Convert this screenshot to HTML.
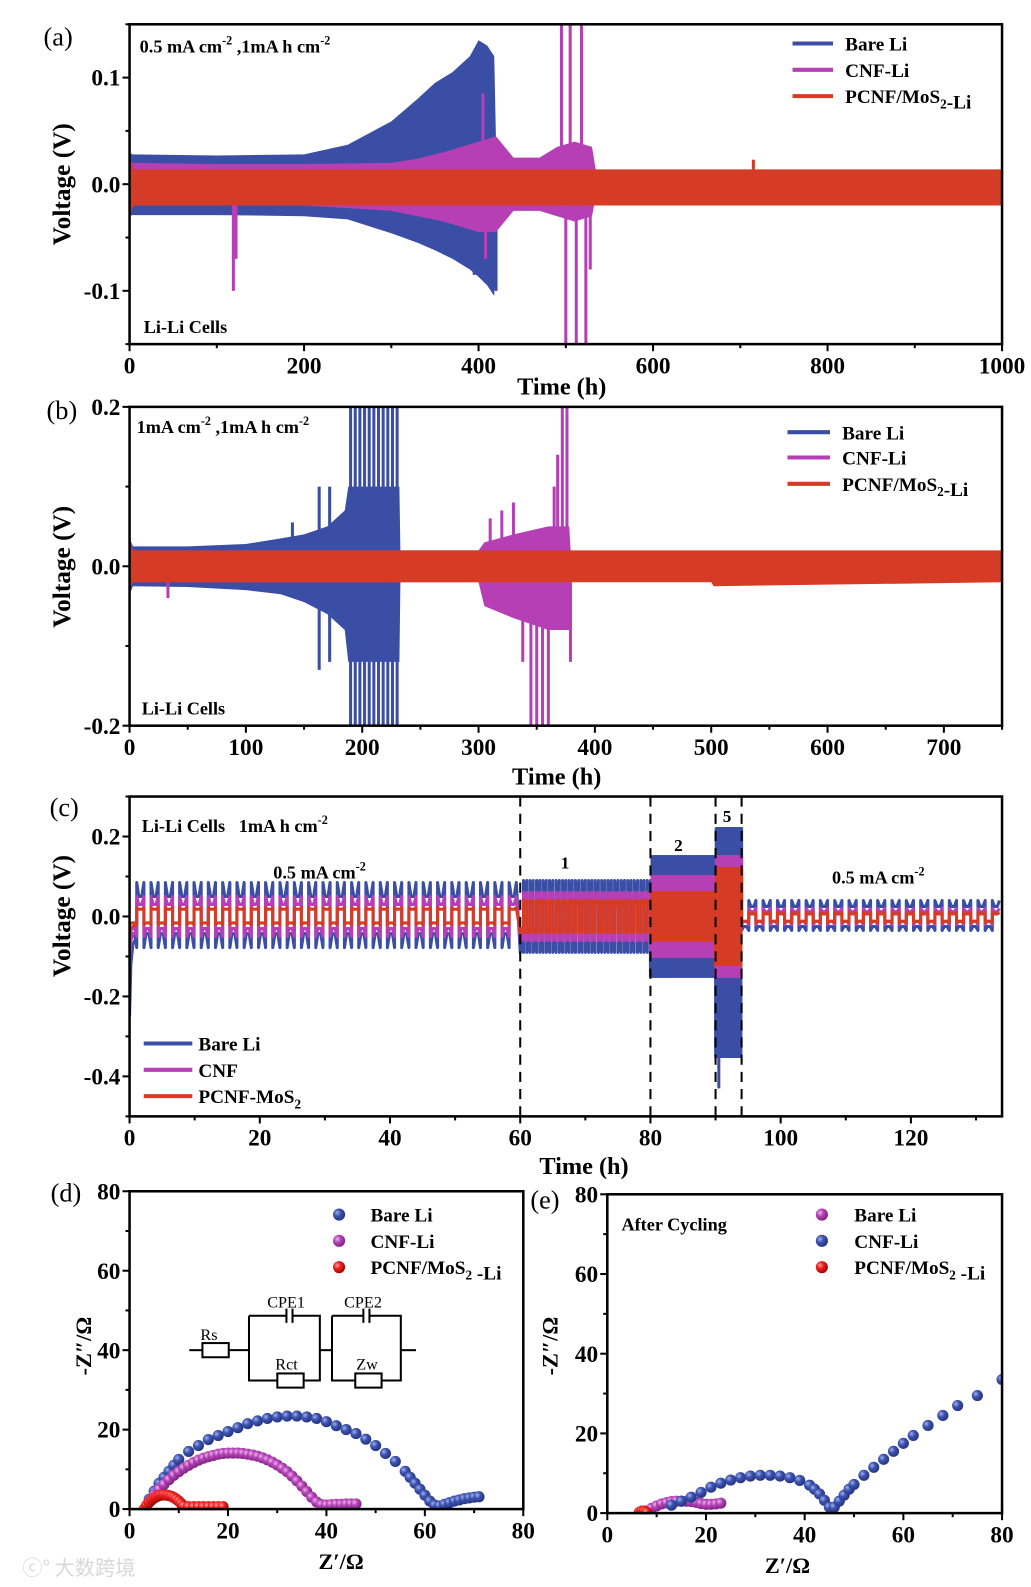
<!DOCTYPE html>
<html><head><meta charset="utf-8"><style>
html,body{margin:0;padding:0;background:#fff;}
svg{display:block;font-family:"Liberation Serif","Noto Serif CJK SC",serif;}
</style></head><body>
<svg id="fig" xmlns="http://www.w3.org/2000/svg" width="1031" height="1587" viewBox="0 0 1018.6 1568" preserveAspectRatio="none">
<defs>
<radialGradient id="gB" cx="35%" cy="35%" r="65%"><stop offset="0" stop-color="#9fb0ee"/><stop offset="0.45" stop-color="#3d52b0"/><stop offset="1" stop-color="#263680"/></radialGradient>
<radialGradient id="gM" cx="35%" cy="35%" r="65%"><stop offset="0" stop-color="#f0b0f0"/><stop offset="0.45" stop-color="#b443b6"/><stop offset="1" stop-color="#7d2580"/></radialGradient>
<radialGradient id="gR" cx="35%" cy="35%" r="65%"><stop offset="0" stop-color="#ff9a9a"/><stop offset="0.45" stop-color="#ee1c1c"/><stop offset="1" stop-color="#a00808"/></radialGradient>
<clipPath id="clipA"><rect x="128" y="24" width="862" height="316"/></clipPath>
<clipPath id="clipB"><rect x="128" y="402" width="862" height="315"/></clipPath>
<clipPath id="clipC"><rect x="128" y="787" width="862" height="316"/></clipPath>
<clipPath id="clipD"><rect x="128" y="1177" width="389" height="315"/></clipPath>
<clipPath id="clipE"><rect x="600" y="1180" width="390" height="316"/></clipPath>
</defs>
<text x="22" y="1556" font-size="20" fill="#d8d8d8" font-family="'Noto Sans CJK SC',sans-serif">ⓒ° 大数跨境</text>
</svg>
<script>
// ---------- DATA: panel (a) ----------
const aBlueT=[0,3,100,200,250,300,330,350,370,390,400,410,418,421];
const aBlueHi=[0.03,0.028,0.027,0.028,0.037,0.059,0.08,0.095,0.105,0.12,0.135,0.13,0.12,0];
const aBlueLo=[-0.03,-0.029,-0.029,-0.03,-0.033,-0.046,-0.055,-0.062,-0.07,-0.08,-0.087,-0.095,-0.105,0];
const aMagT=[0,2,100,200,300,330,360,380,400,420,440,470,490,510,530,537];
const aMagHi=[0.03,0.02,0.019,0.019,0.02,0.024,0.03,0.035,0.04,0.045,0.025,0.025,0.035,0.04,0.035,0];
const aMagLo=[-0.03,-0.02,-0.02,-0.02,-0.025,-0.03,-0.035,-0.04,-0.045,-0.045,-0.025,-0.025,-0.03,-0.035,-0.03,0];
const aRedT=[0,2,5,1000];
const aRedHi=[0.03,0.02,0.014,0.014];
const aRedLo=[-0.03,-0.025,-0.02,-0.02];
const aBlueSpT=[395,410,420];
const aBlueSpV=[-0.085,0.1,-0.1];
const aMagSpT=[119,122,405,408,495,500,505,512,518,523,528];
const aMagSpV=[-0.1,-0.07,0.085,-0.07,0.16,-0.16,0.16,-0.16,0.16,-0.16,-0.08];
const aRedSpT=[715];
const aRedSpV=[0.023];
// ---------- DATA: panel (b) ----------
const bBlueT=[0,3,50,100,130,150,170,185,188,232,233];
const bBlueHi=[0.035,0.025,0.025,0.028,0.035,0.04,0.05,0.07,0.1,0.1,0];
const bBlueLo=[-0.035,-0.025,-0.026,-0.03,-0.035,-0.045,-0.06,-0.08,-0.12,-0.12,0];
const bBlueSpT=[140,163,172,190,194,198,202,206,210,214,218,222,226,230,163,172,190,194,198,202,206,210,214,218,222,226,230];
const bBlueSpV=[0.055,0.1,0.1,0.2,0.2,0.2,0.2,0.2,0.2,0.2,0.2,0.2,0.2,0.2,-0.13,-0.12,-0.2,-0.2,-0.2,-0.2,-0.2,-0.2,-0.2,-0.2,-0.2,-0.2,-0.2];
const bMagT=[0,2,10,300,305,330,360,378,380];
const bMagHi=[0.045,0.02,0.02,0.02,0.03,0.04,0.05,0.05,0];
const bMagLo=[-0.035,-0.02,-0.02,-0.02,-0.05,-0.065,-0.08,-0.08,0];
const bMagSpT=[33,310,320,330,338,345,350,355,360,365,368,372,376,379];
const bMagSpV=[-0.04,0.06,0.07,0.08,-0.12,-0.2,-0.2,-0.2,-0.2,0.1,0.14,0.2,0.2,-0.12];
const bRedT=[0,3,500,502,750];
const bRedHi=[0.03,0.02,0.02,0.02,0.02];
const bRedLo=[-0.03,-0.02,-0.02,-0.025,-0.02];
// ---------- DATA: panel (c) ----------
const cSegStart=[0,60,80,90,94];
const cSegEnd=[60,80,90,94,134];
const cHalf=[1.1,0.5,0.25,0.1,1.1];
const cBluePosPlat=[0.05,0.06,0.11,0.18,0.025];
const cBluePosSpike=[0.085,0.09,0.15,0.22,0.04];
const cBlueNegPlat=[-0.043,-0.06,-0.11,-0.2,-0.025];
const cBlueNegSpike=[-0.078,-0.09,-0.15,-0.35,-0.035];
const cMagPosPlat=[0.03,0.04,0.07,0.12,0.012];
const cMagPosSpike=[0.05,0.06,0.1,0.15,0.02];
const cMagNegPlat=[-0.03,-0.04,-0.07,-0.12,-0.012];
const cMagNegSpike=[-0.05,-0.06,-0.1,-0.15,-0.02];
const cRedPosPlat=[0.018,0.03,0.05,0.1,0.006];
const cRedPosSpike=[0.022,0.04,0.06,0.12,0.01];
const cRedNegPlat=[-0.016,-0.03,-0.05,-0.1,-0.012];
const cRedNegSpike=[-0.02,-0.04,-0.06,-0.12,-0.015];
const cInitT=[0,0.2,0.5,1];
const cInitBlue=[-0.25,-0.12,-0.07,-0.055];
const cInitMag=[-0.1,-0.06,-0.045,-0.04];
const cInitRed=[-0.05,-0.03,-0.025,-0.02];
const cBlueSpT=[90.5,91.2,93.6];
const cBlueSpV=[-0.43,-0.3,-0.28];
const cDashT=[60,80,90,94];
// ---------- DATA: panel (d) ----------
const dBlueX=[3,4,5,6,7,8,9,10,12,14,16,18,20,22,24,26,28,30,32,34,36,38,40,42,44,46,48,50,52,54,56,57,58,59,60,61,62,63,64,65,66,67,68,69,70,71];
const dBlueY=[0,2.5,4.5,6.5,8,9.5,11,12.5,14.5,16,17.5,18.5,19.5,20.5,21.5,22.2,22.8,23.2,23.4,23.4,23.2,22.8,22,21,20,19,17.6,16,14,12,9.5,8,6.5,5,3.5,2,1,0.8,1.2,1.6,2,2.3,2.6,2.8,3,3.1];
const dMagX=[3,4,5,6,7,8,9,10,11,12,13,14,15,16,17,18,19,20,21,22,23,24,25,26,27,28,29,30,31,32,33,34,35,36,37,38,39,40,41,42,43,44,45,46];
const dMagY=[0,2,3.5,5,6.2,7.4,8.5,9.4,10.3,11,11.7,12.3,12.8,13.2,13.5,13.8,14,14.1,14.1,14.1,14,13.8,13.6,13.3,12.9,12.4,11.8,11.1,10.3,9.4,8.3,7.1,5.8,4.4,3,1.8,1.1,1,1.1,1.2,1.2,1.3,1.3,1.3];
const dRedX=[3,3.5,4,4.5,5,5.5,6,6.5,7,7.5,8,8.5,9,9.5,10,10.5,11,12,13,14,15,16,17,18,19];
const dRedY=[0,1,1.7,2.3,2.8,3.1,3.4,3.5,3.6,3.5,3.4,3.2,2.9,2.5,2,1.4,0.8,0.6,0.6,0.6,0.6,0.6,0.6,0.6,0.6];
// ---------- DATA: panel (e) ----------
const eBlueX=[13,15,17,19,21,23,25,27,29,31,33,35,37,39,41,42,43,44,45,46,47,48,49,50,52,54,56,58,60,62,65,68,71,75,80];
const eBlueY=[2,3,4,5.2,6.5,7.5,8.3,8.9,9.3,9.5,9.5,9.3,8.9,8.2,7,6,4.8,3.2,1.5,1.5,3,4.5,6,7.2,9.5,11.5,13.5,15.5,17.5,19.5,22,24.5,27,29.5,33.5];
const eMagX=[8,9,10,11,12,13,14,15,16,17,18,19,20,21,22,23];
const eMagY=[0.5,1.2,1.8,2.3,2.6,2.9,3,3,3,2.9,2.7,2.4,2.2,2.2,2.3,2.5];
const eRedX=[6.5,7,7.5,8];
const eRedY=[0.2,0.5,0.5,0.2];

const NS='http://www.w3.org/2000/svg';
const svg=document.getElementById('fig');
const COL={blue:'#3b4ea6',mag:'#b63fb5',red:'#d63c25'};
function L(d0,d1,r0,r1){return v=>r0+(v-d0)*(r1-r0)/(d1-d0);}
function mk(tag,attrs,parent){const e=document.createElementNS(NS,tag);for(const k in attrs)e.setAttribute(k,attrs[k]);(parent||svg).appendChild(e);return e;}
function txt(x,y,s,size,opts,parent){const e=mk('text',Object.assign({x:x,y:y,'font-size':size,'font-weight':'bold'},opts||{}),parent);e.innerHTML=s;return e;}

function band(g,T,hi,lo,X,Y,color,name){
  const up=T.map((t,i)=>X(t).toFixed(1)+','+Y(hi[i]).toFixed(1));
  const dn=T.map((t,i)=>X(t).toFixed(1)+','+Y(lo[i]).toFixed(1)).reverse();
  const p=mk('polygon',{points:up.concat(dn).join(' '),fill:color},g);
  
  
}
function spikes(g,T,V,X,Y,color,name){
  T.forEach((t,i)=>{
    const l=mk('line',{x1:X(t),x2:X(t),y1:Y(0),y2:Y(V[i]),stroke:color,'stroke-width':3},g);
    
    
  });
}
function axes(o){
  const g=mk('g',{});
  
  
  mk('rect',{x:o.x0,y:o.y0,width:o.x1-o.x0,height:o.y1-o.y0,fill:'none',stroke:'#000','stroke-width':2.5},g);
  for(let v=o.xmin;v<=o.xmax+1e-9;v+=o.xminor){
    const maj=Math.abs(v/o.xmajor-Math.round(v/o.xmajor))<1e-6;
    mk('line',{x1:o.X(v),x2:o.X(v),y1:o.y1,y2:o.y1+(maj?7:4),stroke:'#000','stroke-width':2},g);
    if(maj){const t=txt(o.X(v),o.y1+29,String(Math.round(v)),23,{'text-anchor':'middle'},g);
      }
  }
  for(let v=o.ymin;v<=o.ymax+1e-9;v+=o.yminor){
    const maj=Math.abs(v/o.ymajor-Math.round(v/o.ymajor))<1e-6;
    mk('line',{x1:o.x0,x2:o.x0-(maj?7:4),y1:o.Y(v),y2:o.Y(v),stroke:'#000','stroke-width':2},g);
    if(maj){const lbl=o.yfmt(v);const t=txt(o.x0-9,o.Y(v)+8,lbl,23,{'text-anchor':'end'},g);
      }
  }
  return g;
}
const f1=v=>{const r=Math.round(v*10)/10;return (r===0?'0.0':r.toFixed(1));};
const f0=v=>String(Math.round(v));

// ================= PANEL A =================
const aX=L(0,1000,128,990), aY=L(-0.15,0.15,340,24);
const gA=mk('g',{'clip-path':'url(#clipA)'});


band(gA,aBlueT,aBlueHi,aBlueLo,aX,aY,COL.blue,'series-bare-li');
spikes(gA,aBlueSpT,aBlueSpV,aX,aY,COL.blue,'bare-li-spike');
band(gA,aMagT,aMagHi,aMagLo,aX,aY,COL.mag,'series-cnf-li');
spikes(gA,aMagSpT,aMagSpV,aX,aY,COL.mag,'cnf-li-spike');
band(gA,aRedT,aRedHi,aRedLo,aX,aY,COL.red,'series-pcnf-mos2-li');
spikes(gA,aRedSpT,aRedSpV,aX,aY,COL.red,'pcnf-spike');
axes({name:'panel-a',x0:128,x1:990,y0:24,y1:340,X:aX,Y:aY,xmin:0,xmax:1000,xmajor:200,xminor:100,ymin:-0.15,ymax:0.15,ymajor:0.1,yminor:0.05,yfmt:f1});

// ================= PANEL B =================
const bX=L(0,750,128,990), bY=L(-0.2,0.2,717,402);
const gB=mk('g',{'clip-path':'url(#clipB)'});


band(gB,bBlueT,bBlueHi,bBlueLo,bX,bY,COL.blue,'series-bare-li');
spikes(gB,bBlueSpT,bBlueSpV,bX,bY,COL.blue,'bare-li-spike');
band(gB,bMagT,bMagHi,bMagLo,bX,bY,COL.mag,'series-cnf-li');
spikes(gB,bMagSpT,bMagSpV,bX,bY,COL.mag,'cnf-li-spike');
band(gB,bRedT,bRedHi,bRedLo,bX,bY,COL.red,'series-pcnf-mos2-li');
axes({name:'panel-b',x0:128,x1:990,y0:402,y1:717,X:bX,Y:bY,xmin:0,xmax:750,xmajor:100,xminor:50,ymin:-0.2,ymax:0.2,ymajor:0.2,yminor:0.1,yfmt:f1});

// ================= PANEL C =================
const cX=L(0,134,128,990), cY=L(-0.5,0.3,1103,787);
const gC=mk('g',{'clip-path':'url(#clipC)'});


function wave(pp,ps,np,ns){
  const pts=[];const F=[0,0.15,0.3,0.7,0.85,1];
  for(let s=0;s<cSegStart.length;s++){
    const h=cHalf[s];const n=Math.floor((cSegEnd[s]-cSegStart[s])/h+1e-6);
    for(let k=0;k<n;k++){
      const t0=cSegStart[s]+k*h;const pos=(k%2===1);
      const p=pos?pp[s]:np[s], sp=pos?ps[s]:ns[s];
      const vals=[sp,(sp+p)/2,p,p,(sp+p)/2,sp];
      F.forEach((f,i)=>pts.push(cX(t0+f*h).toFixed(1)+','+cY(vals[i]).toFixed(1)));
    }
  }
  return pts.join(' ');
}
function cLine(pp,ps,np,ns,init,color,name){
  const l=mk('polyline',{points:wave(pp,ps,np,ns),fill:'none',stroke:color,'stroke-width':3,'stroke-linejoin':'round'},gC);
  
  
  const i=mk('polyline',{points:cInitT.map((t,j)=>cX(t)+','+cY(init[j])).join(' '),fill:'none',stroke:color,'stroke-width':3},gC);
  
  
}
cLine(cBluePosPlat,cBluePosSpike,cBlueNegPlat,cBlueNegSpike,cInitBlue,COL.blue,'series-bare-li');
spikes(gC,cBlueSpT,cBlueSpV,cX,cY,COL.blue,'bare-li-spike');
cLine(cMagPosPlat,cMagPosSpike,cMagNegPlat,cMagNegSpike,cInitMag,COL.mag,'series-cnf');
cLine(cRedPosPlat,cRedPosSpike,cRedNegPlat,cRedNegSpike,cInitRed,COL.red,'series-pcnf-mos2');
cDashT.forEach(t=>{
  const d=mk('line',{x1:cX(t),x2:cX(t),y1:787,y2:1103,stroke:'#000','stroke-width':2,'stroke-dasharray':'10,7'});
  
  
});
axes({name:'panel-c',x0:128,x1:990,y0:787,y1:1103,X:cX,Y:cY,xmin:0,xmax:134,xmajor:20,xminor:10,ymin:-0.5,ymax:0.3,ymajor:0.2,yminor:0.1,yfmt:f1});

// ================= PANEL D =================
const dX=L(0,80,128,517), dY=L(0,80,1491,1177);
const gD=mk('g',{'clip-path':'url(#clipD)'});


function dots(g,xs,ys,X,Y,grad,name){
  xs.forEach((x,i)=>{
    const c=mk('circle',{cx:X(x),cy:Y(ys[i]),r:5.5,fill:'url(#'+grad+')'},g);
    
    
  });
}
dots(gD,dBlueX,dBlueY,dX,dY,'gB','bare-li-point');
dots(gD,dMagX,dMagY,dX,dY,'gM','cnf-li-point');
dots(gD,dRedX,dRedY,dX,dY,'gR','pcnf-mos2-li-point');
axes({name:'panel-d',x0:128,x1:517,y0:1177,y1:1491,X:dX,Y:dY,xmin:0,xmax:80,xmajor:20,xminor:10,ymin:0,ymax:80,ymajor:20,yminor:10,yfmt:f0});

// ================= PANEL E =================
const eX=L(0,80,600,990), eY=L(0,80,1495,1180);
const gE=mk('g',{'clip-path':'url(#clipE)'});


dots(gE,eMagX,eMagY,eX,eY,'gM','bare-li-point');
dots(gE,eBlueX,eBlueY,eX,eY,'gB','cnf-li-point');
dots(gE,eRedX,eRedY,eX,eY,'gR','pcnf-mos2-li-point');
axes({name:'panel-e',x0:600,x1:990,y0:1180,y1:1495,X:eX,Y:eY,xmin:0,xmax:80,xmajor:20,xminor:10,ymin:0,ymax:80,ymajor:20,yminor:10,yfmt:f0});

// ================= TEXT / LEGENDS =================
function label(x,y,s,size,name,opts){const t=txt(x,y,s,size,opts);return t;}
const sup=s=>'<tspan font-size="12" dy="-8">'+s+'</tspan><tspan dy="8"> </tspan>';
const sub=s=>'<tspan font-size="13" dy="5">'+s+'</tspan><tspan dy="-5"></tspan>';
label(43,45,'(a)',26,'panel-a-letter',{'font-weight':'normal'});
label(46,414,'(b)',26,'panel-b-letter',{'font-weight':'normal'});
label(49,806,'(c)',26,'panel-c-letter',{'font-weight':'normal'});
label(50,1187,'(d)',26,'panel-d-letter',{'font-weight':'normal'});
label(524,1194,'(e)',26,'panel-e-letter',{'font-weight':'normal'});
label(138,52,'0.5 mA cm'+sup('-2')+',1mA h cm'+sup('-2'),18,'panel-a-condition');
label(142,329,'Li-Li Cells',18,'panel-a-cell-label');
label(135,428,'1mA cm'+sup('-2')+',1mA h cm'+sup('-2'),18,'panel-b-condition');
label(140,706,'Li-Li Cells',18,'panel-b-cell-label');
label(140,822,'Li-Li Cells&#160;&#160;&#160;1mA h cm'+sup('-2'),18,'panel-c-condition');
label(270,868,'0.5 mA cm'+sup('-2'),18,'rate-label-left');
label(822,873,'0.5 mA cm'+sup('-2'),18,'rate-label-right');
label(554,858,'1',17,'rate-label-1');
label(666,841,'2',17,'rate-label-2');
label(714,812,'5',17,'rate-label-5');
label(614,1216,'After Cycling',18,'after-cycling-label');
[[182,'panel-a'],[560,'panel-b'],[905,'panel-c']].forEach(([cy,n])=>{
  label(0,0,'Voltage (V)',25,n+'-y-axis-title',{'text-anchor':'middle',transform:'translate(69,'+cy+') rotate(-90)'});
});
label(555,390,'Time (h)',24,'panel-a-x-axis-title',{'text-anchor':'middle'});
label(550,775,'Time (h)',24,'panel-b-x-axis-title',{'text-anchor':'middle'});
label(577,1160,'Time (h)',24,'panel-c-x-axis-title',{'text-anchor':'middle'});
label(337,1550,"Z′/Ω",22,'panel-d-x-axis-title',{'text-anchor':'middle'});
label(778,1554,"Z′/Ω",22,'panel-e-x-axis-title',{'text-anchor':'middle'});
label(0,0,"-Z″/Ω",22,'panel-d-y-axis-title',{'text-anchor':'middle',transform:'translate(90,1330) rotate(-90)'});
label(0,0,"-Z″/Ω",22,'panel-e-y-axis-title',{'text-anchor':'middle',transform:'translate(551,1330) rotate(-90)'});
function lineLegend(x0,x1,tx,ys,names,colors,pfx){
  ys.forEach((y,i)=>{
    const l=mk('line',{x1:x0,x2:x1,y1:y,y2:y,stroke:colors[i],'stroke-width':4});
    
    
    label(tx,y+7,names[i],19,pfx+'-legend-entry');
  });
}
const cols=[COL.blue,COL.mag,COL.red];
lineLegend(783,823,835,[43,69,95],['Bare Li','CNF-Li','PCNF/MoS'+sub('2')+'-Li'],cols,'panel-a');
lineLegend(778,820,832,[427,452,478],['Bare Li','CNF-Li','PCNF/MoS'+sub('2')+'-Li'],cols,'panel-b');
lineLegend(142,190,196,[1031,1057,1083],['Bare Li','CNF','PCNF-MoS'+sub('2')],cols,'panel-c');
function dotLegend(x,tx,ys,names,grads,pfx){
  ys.forEach((y,i)=>{
    const c=mk('circle',{cx:x,cy:y,r:6,fill:'url(#'+grads[i]+')'});
    
    
    label(tx,y+7,names[i],19,pfx+'-legend-entry');
  });
}
dotLegend(335,366,[1200,1226,1252],['Bare Li','CNF-Li','PCNF/MoS'+sub('2')+' -Li'],['gB','gM','gR'],'panel-d');
dotLegend(812,844,[1200,1226,1252],['Bare Li','CNF-Li','PCNF/MoS'+sub('2')+' -Li'],['gM','gB','gR'],'panel-e');
const gK=mk('g',{fill:'none',stroke:'#000','stroke-width':2});


mk('polyline',{points:'187,1334 200,1334'},gK);
mk('rect',{x:200,y:1327,width:26,height:14},gK);
mk('polyline',{points:'226,1334 246,1334'},gK);
mk('path',{d:'M246 1300 H283 M289 1300 H316 V1364 H300 M274 1364 H246 V1300 M283 1293 V1307 M289 1293 V1307'},gK);
mk('rect',{x:274,y:1357,width:26,height:14},gK);
mk('polyline',{points:'316,1334 328,1334'},gK);
mk('path',{d:'M328 1300 H359 M365 1300 H396 V1364 H377 M351 1364 H328 V1300 M359 1293 V1307 M365 1293 V1307'},gK);
mk('rect',{x:351,y:1357,width:26,height:14},gK);
mk('polyline',{points:'396,1334 411,1334'},gK);
label(198,1324,'Rs',16,'circuit-rs',{'font-weight':'normal'});
label(264,1292,'CPE1',16,'circuit-cpe1',{'font-weight':'normal'});
label(340,1292,'CPE2',16,'circuit-cpe2',{'font-weight':'normal'});
label(272,1353,'Rct',16,'circuit-rct',{'font-weight':'normal'});
label(352,1353,'Zw',16,'circuit-zw',{'font-weight':'normal'});
</script>
</body></html>
